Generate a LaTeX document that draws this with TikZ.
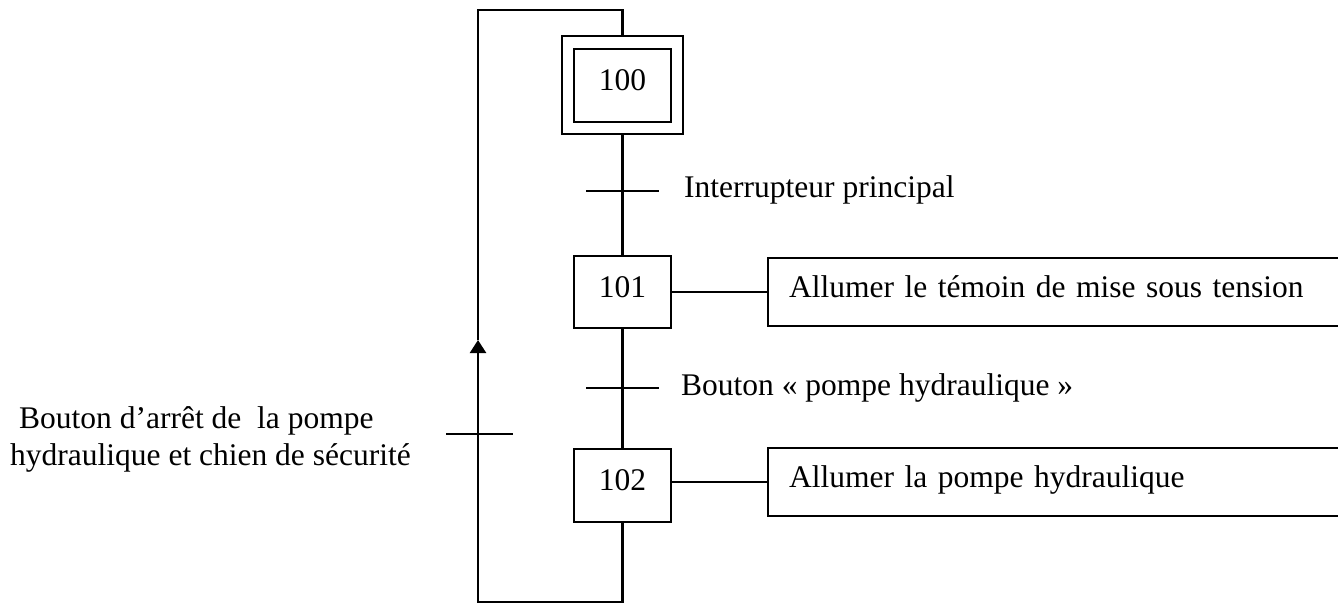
\documentclass[tikz,border=0pt]{standalone}
\usepackage{fontspec}
\setmainfont{Liberation Serif}
\usetikzlibrary{arrows.meta}
\begin{document}
\begin{tikzpicture}[x=1pt,y=-1pt,line width=2.4pt,
  every node/.style={font=\fontsize{31.5}{37}\selectfont},
  stepbox/.style={draw,inner sep=0pt,minimum width=97pt,text height=22pt,text depth=12pt},
  actbox/.style={draw,anchor=west,inner ysep=0pt,inner xsep=21pt,text width=550pt,
    align=left,minimum height=68pt,text height=22pt,text depth=12pt},
  cond/.style={anchor=base west,inner sep=0pt},
  tick/.style={line width=2.4pt}]
\path[use as bounding box] (0,0) rectangle (1338,603);
\clip (0,0) rectangle (1338,603);

% steps
\node[stepbox,minimum height=73pt] (s100) at (622.5,85.5) {100};
\node[draw,inner sep=0pt,minimum width=121pt,minimum height=98pt] (s100o) at (622.5,85) {};
\node[stepbox,minimum height=72pt] (s101) at (622.5,292) {101};
\node[stepbox,minimum height=73pt] (s102) at (622.5,485.5) {102};

% actions
\node[actbox] (a1) at (767,292) {Allumer le témoin de mise sous tension};
\node[actbox] (a2) at (767,482) {Allumer la pompe hydraulique};
\draw (a1.west) -- (a1.west -| s101.east);
\draw (a2.west) -- (a2.west -| s102.east);

% links between steps
\draw (s100o.south) -- (s101.north);
\draw (s101.south) -- (s102.north);

% transitions
\coordinate (t1) at (622.5,191);
\coordinate (t2) at (622.5,388);
\draw[tick] ([xshift=-36.5pt]t1) -- ([xshift=36.5pt]t1);
\draw[tick] ([xshift=-36.5pt]t2) -- ([xshift=36.5pt]t2);
\node[cond] (c1) at (683,197) {Interrupteur principal};
\node[cond] (c2) at (680,395) {Bouton « pompe hydraulique »};

% return loop
\coordinate (bl) at (478,602);
\coordinate (arr) at (478,340);
\coordinate (tl) at (478,10);
\draw[-{Triangle[length=13pt,width=16pt]}] (s102.south) |- (bl) -- (arr);
\draw (arr) -- (tl) -| (s100o.north);
\coordinate (t3) at (479.5,434);
\draw[tick] ([xshift=-33.5pt]t3) -- ([xshift=33.5pt]t3);
% two-line label; the base anchor sits on its last line
\node[align=left,anchor=base west,inner sep=0pt] (c3) at (9,465)
  {\hspace*{9pt}Bouton d’arrêt de\ \ la pompe\\hydraulique et chien de sécurité};
\end{tikzpicture}
\end{document}
